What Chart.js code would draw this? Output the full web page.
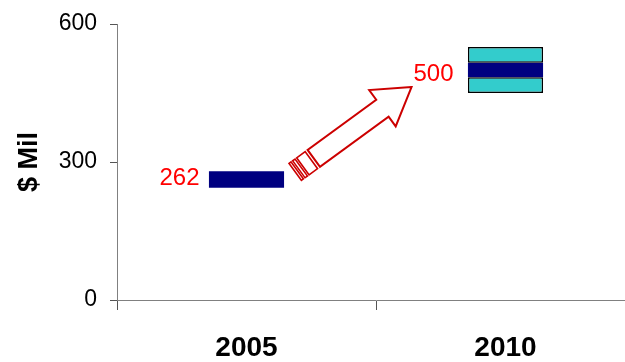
<!DOCTYPE html>
<html>
<head>
<meta charset="utf-8">
<script src="https://cdn.jsdelivr.net/npm/chart.js@4"></script>
<style>
  html, body { margin: 0; padding: 0; overflow: hidden; background: #fff; width: 625px; height: 362px; }
  #wrap { position: absolute; left: 0; top: 0; width: 640px; height: 362px; }
</style>
</head>
<body>
<div id="wrap"><canvas id="c"></canvas></div>
<script>
// Market size estimates, $ millions
const years = ['2005', '2010'];
const estimates = [262, 500];          // point estimate shown beside each bar
const coreLow = [244, 484];            // dark band around the estimate
const coreHigh = [280, 516];
const rangeLow = [null, 450];          // forecast range for 2010
const rangeHigh = [null, 550];
const yTicks = [0, 300, 600];

const NAVY = '#000080';
const TEAL = '#33CCCC';
const FONT = '"Liberation Sans", Arial, sans-serif';

const pairs = (lo, hi) => lo.map((v, i) => (v == null || hi[i] == null) ? null : [v, hi[i]]);

// Red value labels and the block arrow showing growth
const annotations = {
  id: 'annotations',
  afterDatasetsDraw(chart) {
    const { ctx, scales: { x, y } } = chart;
    ctx.save();

    // value labels
    ctx.fillStyle = '#FF0000';
    ctx.font = '24px ' + FONT;
    ctx.textAlign = 'right';
    ctx.textBaseline = 'alphabetic';
    ctx.fillText(String(estimates[0]), x.getPixelForValue(0) - 47, y.getPixelForValue(estimates[0]) + 6);
    ctx.fillText(String(estimates[1]), x.getPixelForValue(1) - 52, y.getPixelForValue(estimates[1]) + 11);

    // striped block arrow
    const tipX = x.getPixelForValue(1) - 94;
    const tipY = y.getPixelForValue(estimates[1]) + 17;
    ctx.translate(tipX, tipY);
    ctx.rotate(Math.atan2(-0.59, 0.808));
    ctx.strokeStyle = '#CC0000';
    ctx.fillStyle = '#FFFFFF';
    ctx.lineWidth = 2;
    ctx.lineJoin = 'miter';
    const headLen = 36, headHalf = 22.5, shaftHalf = 10.5, shaftEnd = -121;
    ctx.beginPath();
    ctx.moveTo(0, 0);
    ctx.lineTo(-headLen, -headHalf);
    ctx.lineTo(-headLen, -shaftHalf);
    ctx.lineTo(shaftEnd, -shaftHalf);
    ctx.lineTo(shaftEnd, shaftHalf);
    ctx.lineTo(-headLen, shaftHalf);
    ctx.lineTo(-headLen, headHalf);
    ctx.closePath();
    ctx.fill();
    ctx.stroke();
    const stripes = [[-144, -141.5], [-139.5, -136.5], [-134.5, -124]];
    ctx.lineWidth = 1.6;
    for (const [a, b] of stripes) {
      ctx.beginPath();
      ctx.rect(a, -shaftHalf, b - a, shaftHalf * 2);
      ctx.fill();
      ctx.stroke();
    }
    ctx.restore();
  }
};

new Chart(document.getElementById('c'), {
  type: 'bar',
  data: {
    labels: years,
    datasets: [
      {
        label: 'Range low',
        data: pairs(rangeLow, coreLow),
        backgroundColor: TEAL,
        borderColor: '#000000',
        borderWidth: 1.5,
        borderSkipped: false
      },
      {
        label: 'Range high',
        data: pairs(coreHigh, rangeHigh),
        backgroundColor: TEAL,
        borderColor: '#000000',
        borderWidth: 1.5,
        borderSkipped: false
      },
      {
        label: 'Estimate',
        data: pairs(coreLow, coreHigh),
        backgroundColor: NAVY,
        borderWidth: 0
      }
    ]
  },
  options: {
    responsive: true,
    maintainAspectRatio: false,
    animation: false,
    events: [],
    layout: { padding: { top: 24, right: 5, left: 0, bottom: 0 } },
    datasets: { bar: { grouped: false, categoryPercentage: 1, barPercentage: 0.29 } },
    plugins: { legend: { display: false }, tooltip: { enabled: false } },
    scales: {
      x: {
        grid: { drawOnChartArea: false, tickLength: 10, color: '#555', offset: true },
        border: { color: '#808080', width: 1 },
        ticks: { color: '#000', font: { family: FONT, size: 28, weight: 'bold' }, padding: 21, maxRotation: 0 },
        afterFit(scale) { scale.height = 62; }
      },
      y: {
        min: 0,
        max: 600,
        afterBuildTicks(scale) { scale.ticks = yTicks.map(v => ({ value: v })); },
        grid: { drawOnChartArea: false, tickLength: 7, color: '#555' },
        border: { color: '#808080', width: 1 },
        ticks: { color: '#000', font: { family: FONT, size: 23 }, padding: 13 },
        title: {
          display: true,
          text: '$ Mil',
          color: '#000',
          font: { family: FONT, size: 27, weight: 'bold' },
          padding: { top: 13, bottom: 0 }
        },
        afterFit(scale) {
          scale.width = 117;
          scale.paddingTop = 0;
          scale.paddingBottom = 0;
        }
      }
    }
  },
  plugins: [annotations]
});
</script>
</body>
</html>
